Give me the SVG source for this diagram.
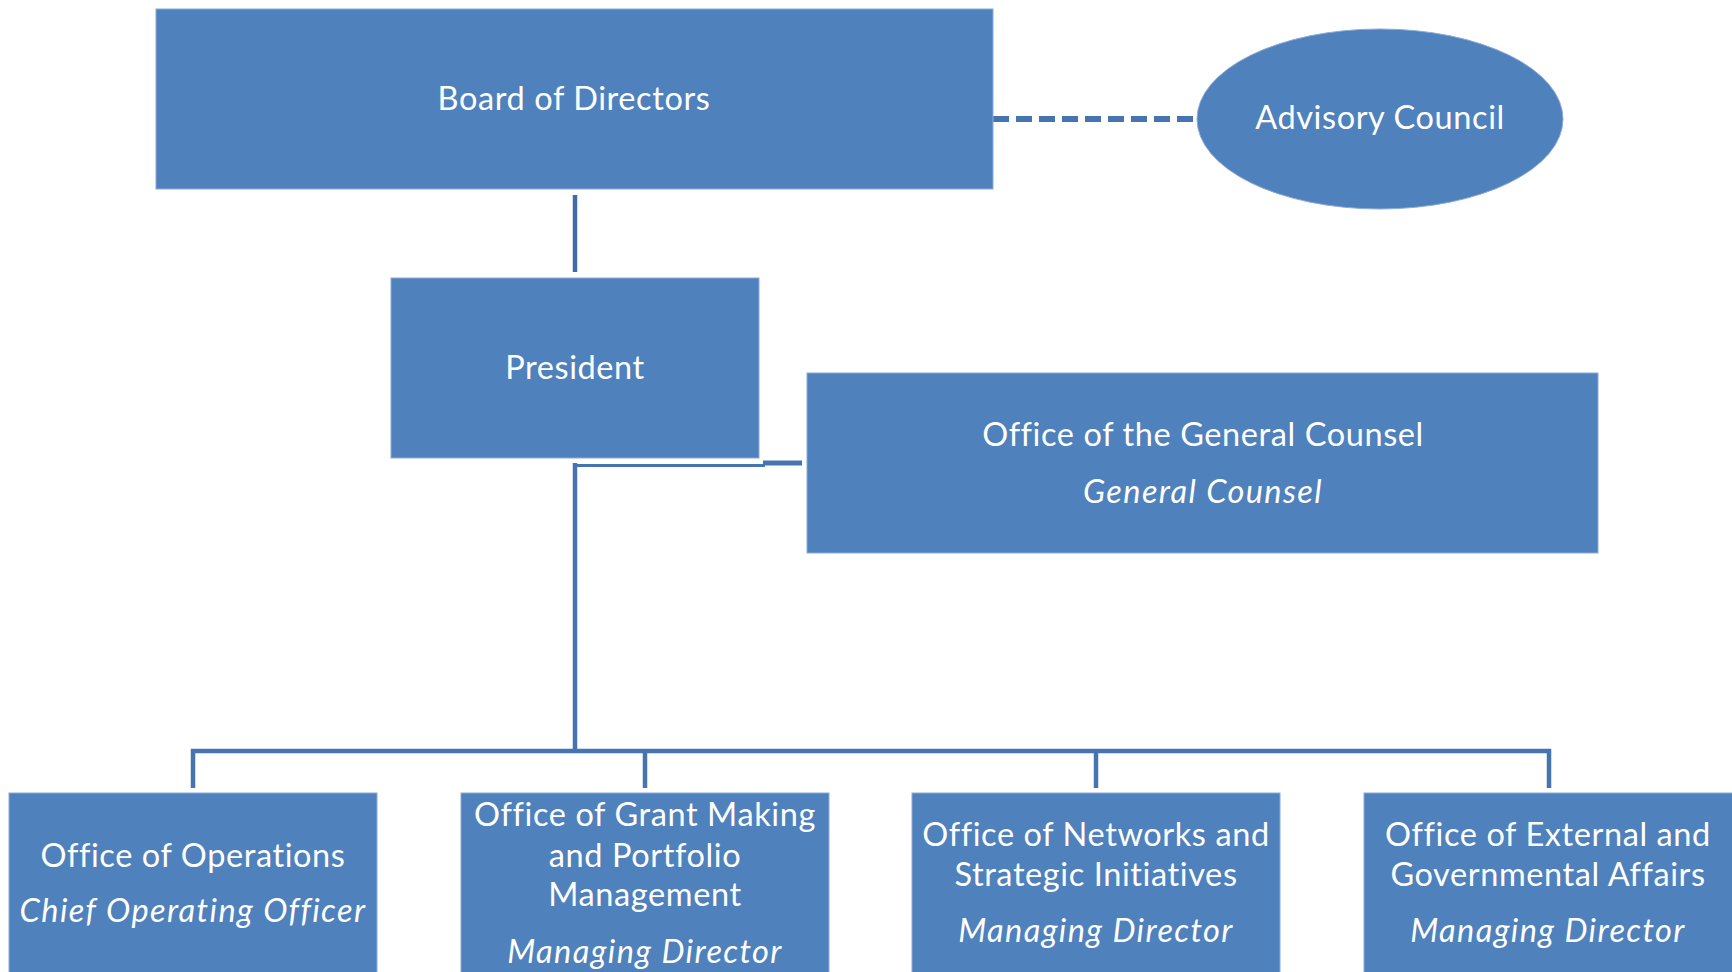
<svg xmlns="http://www.w3.org/2000/svg" width="1732" height="972" viewBox="0 0 1732 972">
<style>
.box{fill:#4F81BD;stroke:#8CAAD6;stroke-width:1}
.t{font-family:Lato,"Open Sans",sans-serif;font-size:32.5px;letter-spacing:0.6px;fill:#FFFFFF;text-anchor:middle}
.i{font-style:italic;letter-spacing:1.4px}
.c{stroke:#4674B0;fill:none}
</style>
<rect width="1732" height="972" fill="#FFFFFF"/>
<g id="connectors">
<line class="c" x1="993" y1="119" x2="1197" y2="119" stroke-width="6" stroke-dasharray="16,7"/>
<line class="c" x1="575" y1="195" x2="575" y2="272" stroke-width="4.5" style="stroke:#3F6CA6"/>
<line class="c" x1="575" y1="463" x2="575" y2="753" stroke-width="4.5"/>
<line class="c" x1="573" y1="465.5" x2="765" y2="465.5" stroke-width="3"/>
<line class="c" x1="763" y1="463" x2="802" y2="463" stroke-width="5"/>
<path class="c" d="M193 788 V751 H1549 V788" stroke-width="4.5"/>
<line class="c" x1="645" y1="751" x2="645" y2="788" stroke-width="4.5"/>
<line class="c" x1="1096" y1="751" x2="1096" y2="788" stroke-width="4.5"/>
</g>
<g id="board">
<rect class="box" x="156" y="9" width="837" height="180"/>
<text class="t" x="574" y="110">Board of Directors</text>
</g>
<g id="advisory">
<ellipse class="box" cx="1380" cy="119" rx="183" ry="90"/>
<text class="t" x="1380" y="129">Advisory Council</text>
</g>
<g id="president">
<rect class="box" x="391" y="278" width="368" height="180"/>
<text class="t" x="575" y="379">President</text>
</g>
<g id="counsel">
<rect class="box" x="807" y="373" width="791" height="180"/>
<text class="t" x="1203" y="446">Office of the General Counsel</text>
<text class="t i" x="1203" y="503">General Counsel</text>
</g>
<g id="operations">
<rect class="box" x="9" y="793" width="368" height="190"/>
<text class="t" x="193" y="867">Office of Operations</text>
<text class="t i" x="193" y="922">Chief Operating Officer</text>
</g>
<g id="grantmaking">
<rect class="box" x="461" y="793" width="368" height="190"/>
<text class="t" x="645" y="826">Office of Grant Making</text>
<text class="t" x="645" y="867">and Portfolio</text>
<text class="t" x="645" y="906">Management</text>
<text class="t i" x="645" y="963">Managing Director</text>
</g>
<g id="networks">
<rect class="box" x="912" y="793" width="368" height="190"/>
<text class="t" x="1096" y="846">Office of Networks and</text>
<text class="t" x="1096" y="886">Strategic Initiatives</text>
<text class="t i" x="1096" y="942">Managing Director</text>
</g>
<g id="external">
<rect class="box" x="1364" y="793" width="380" height="190"/>
<text class="t" x="1548" y="846">Office of External and</text>
<text class="t" x="1548" y="886">Governmental Affairs</text>
<text class="t i" x="1548" y="942">Managing Director</text>
</g>
</svg>
